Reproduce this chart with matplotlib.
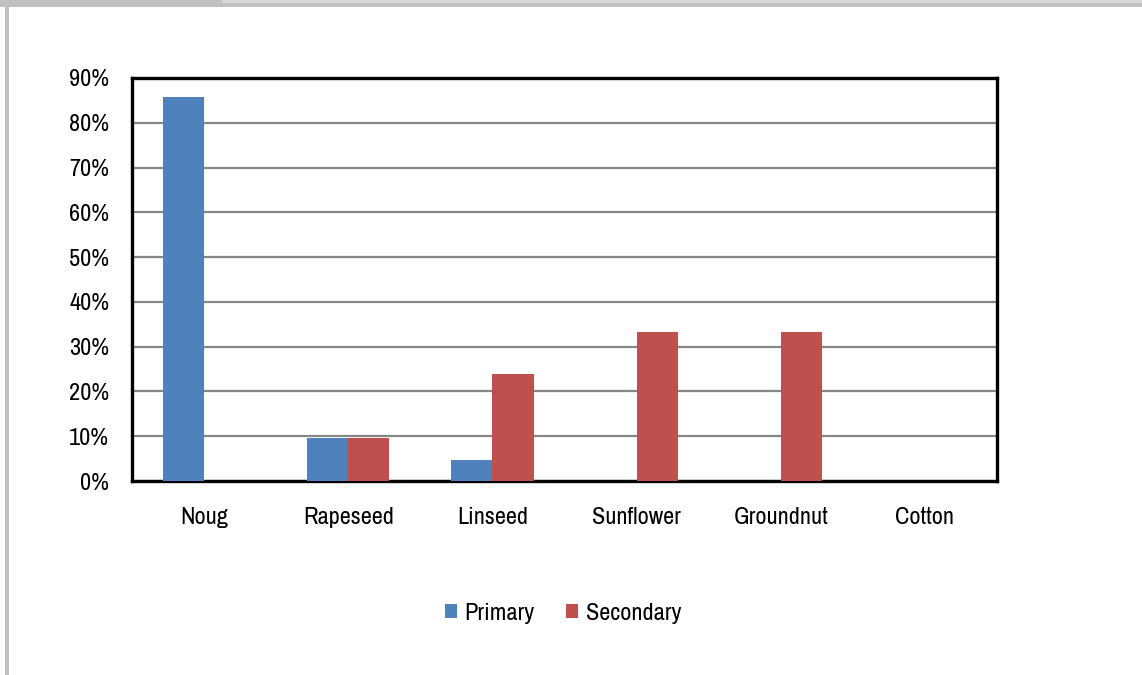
import matplotlib
matplotlib.use("Agg")
import matplotlib.pyplot as plt
from matplotlib import font_manager
from matplotlib.patches import Rectangle
import numpy as np

crops = ["Noug", "Rapeseed", "Linseed", "Sunflower", "Groundnut", "Cotton"]
primary = [85.7, 9.5, 4.8, 0.0, 0.0, 0.0]
secondary = [0.0, 9.5, 23.8, 33.3, 33.3, 0.0]
y_ticks = [0, 10, 20, 30, 40, 50, 60, 70, 80, 90]

available = {f.name for f in font_manager.fontManager.ttflist}
family = next((n for n in ("Liberation Sans Narrow", "Archivo Narrow", "Roboto Condensed")
               if n in available), "Liberation Sans")
plt.rcParams["font.family"] = [family, "DejaVu Sans"]

W, H = 1142, 675
fig = plt.figure(figsize=(W / 100, H / 100), dpi=100)
fig.patch.set_facecolor("white")

# outer frame strips
def px_rect(x0, y0, x1, y1, color):
    fig.patches.append(Rectangle((x0 / W, 1 - y1 / H), (x1 - x0) / W, (y1 - y0) / H,
                                 transform=fig.transFigure, facecolor=color,
                                 edgecolor="none", zorder=0))

px_rect(0, 0, W, 7, "#C0C0C0")
px_rect(222, 0, W, 3, "#D9D9D9")
px_rect(5, 0, 9, H, "#C0C0C0")

left, right, top, bottom = 132, 997, 78, 481
ax = fig.add_axes([left / W, 1 - bottom / H, (right - left) / W, (bottom - top) / H])

x = np.arange(len(crops))
w = 1 / 3.5
ax.bar(x - w / 2, primary, width=w, color="#4F81BD", label="Primary", zorder=3)
ax.bar(x + w / 2, secondary, width=w, color="#C0504D", label="Secondary", zorder=3)

ax.set_xlim(-0.5, len(crops) - 0.5)
ax.set_ylim(0, 90)
ax.set_yticks(y_ticks)
ax.set_yticklabels([f"{v}%" for v in y_ticks])
ax.set_xticks(x)
ax.set_xticklabels(crops)
ax.tick_params(axis="both", length=0, labelsize=17.5, colors="black")
ax.tick_params(axis="y", pad=16.5)
ax.tick_params(axis="x", pad=18.5)

ax.yaxis.grid(True, color="#868686", linewidth=1.6, zorder=1)
ax.set_axisbelow(True)
for s in ax.spines.values():
    s.set_color("black")
    s.set_linewidth(2.4)

fig.legend(loc="center", bbox_to_anchor=(563 / W, 1 - 613 / H), ncol=2, frameon=False,
           fontsize=17.5, handlelength=0.5, handleheight=0.5, handletextpad=0.3,
           columnspacing=1.3)

fig.savefig("out.png", dpi=100, facecolor="white")
